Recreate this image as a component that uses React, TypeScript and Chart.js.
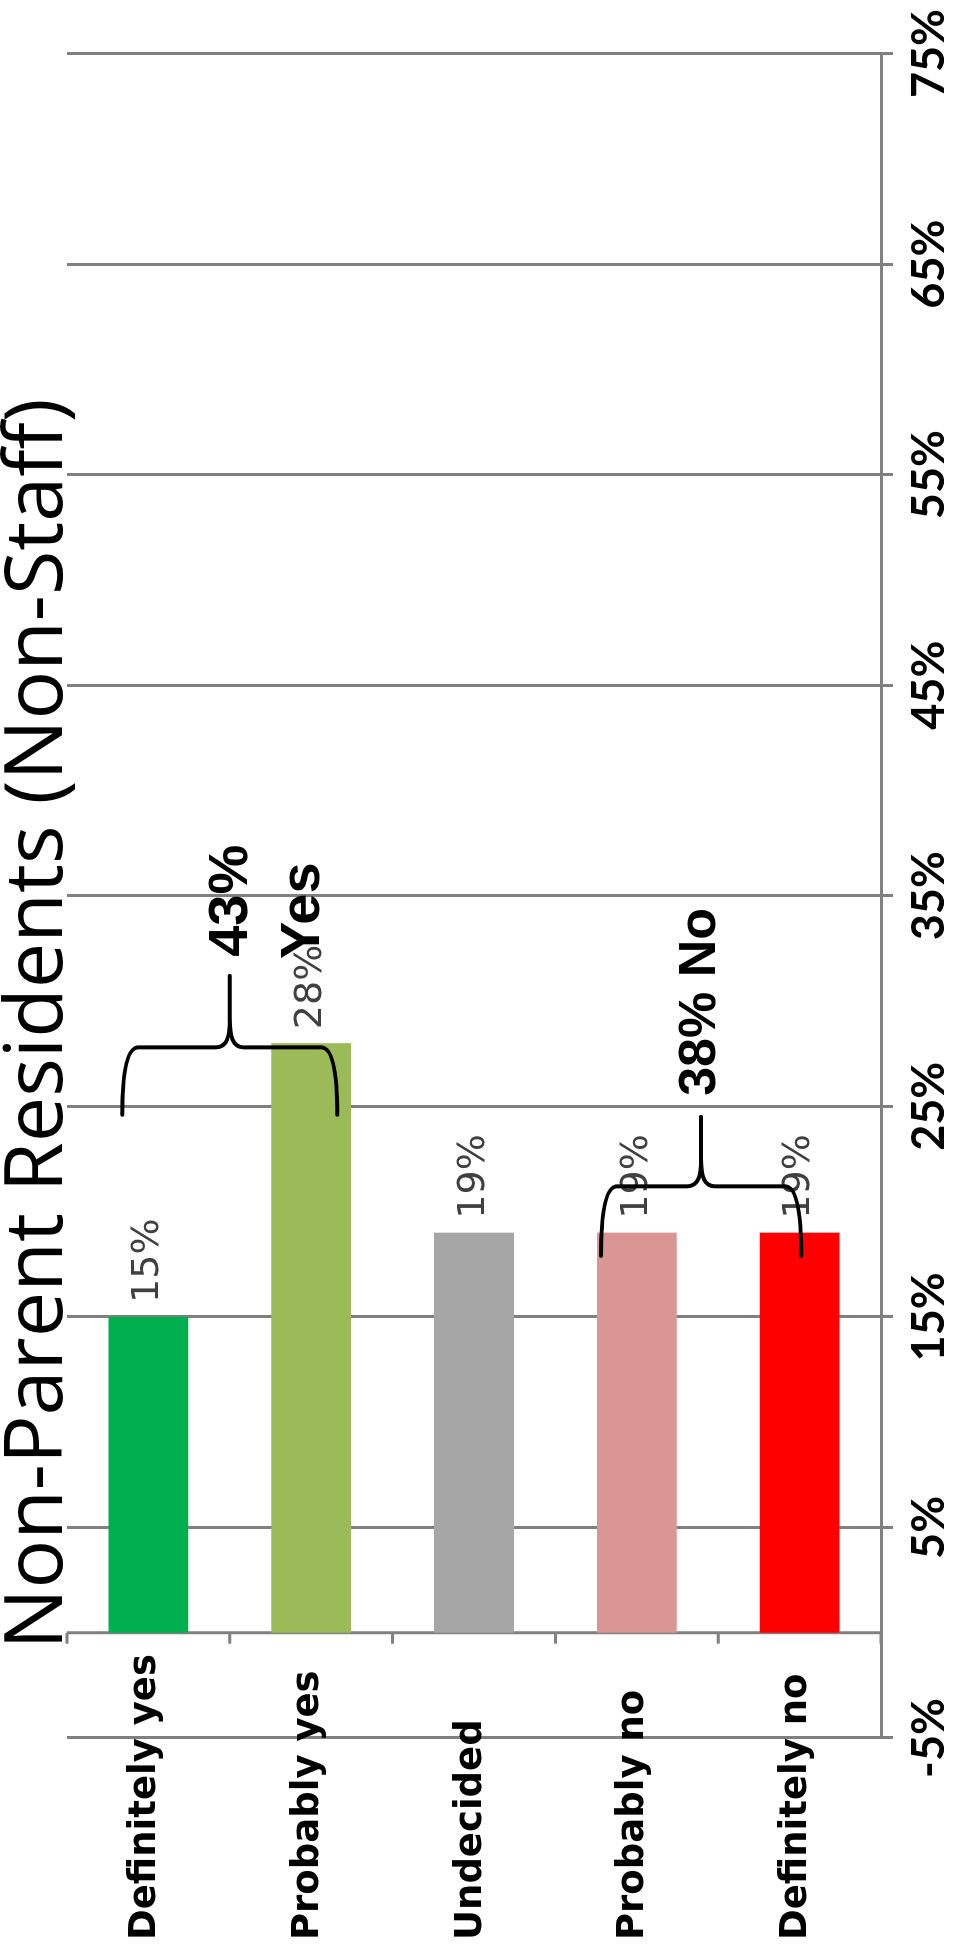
import React, { useEffect, useRef } from 'react';
import { Chart, registerables } from 'chart.js';

Chart.register(...registerables);

// ---- data ----
const TITLE = 'Non-Parent Residents (Non-Staff)';
const CATEGORIES = ['Definitely yes', 'Probably yes', 'Undecided', 'Probably no', 'Definitely no'];
const VALUES = [15, 28, 19, 19, 19];
const BAR_COLORS = ['#00B050', '#9BBB59', '#A6A6A6', '#D99694', '#FF0000'];
const TICK_VALUES = [-5, 5, 15, 25, 35, 45, 55, 65, 75];
const AXIS_MIN = -5;
const AXIS_MAX = 75;

const YES_LINES = ['43%', 'Yes'];
const NO_LINES = ['38% No'];

// ---- annotation layout (data units: value %, category index) ----
const BRACES = [
  { from: -0.16, to: 1.16, arm: 24.6, mid: 27.8, tip: 31.2 },
  { from: 2.78, to: 4.01, arm: 17.9, mid: 21.2, tip: 24.5 },
];
const NOTES = [
  { text: YES_LINES[0], x: 32.1, y: 0.51, size: 56 },
  { text: YES_LINES[1], x: 32.0, y: 0.955, size: 56 },
  { text: NO_LINES[0], x: 25.5, y: 3.39, size: 52 },
];

const GRID_COLOR = '#808080';
const W = 2048;
const H = 955;
const LABEL_LEFT = 108;

const categoryAxisPlugin = {
  id: 'categoryAxis',
  beforeDatasetsDraw(chart: any) {
    const { ctx, chartArea, scales } = chart;
    const xs = scales.x;
    const ys = scales.y;
    const x0 = xs.getPixelForValue(0);
    ctx.save();
    ctx.strokeStyle = GRID_COLOR;
    ctx.lineWidth = 3;
    ctx.beginPath();
    ctx.moveTo(x0, chartArea.top);
    ctx.lineTo(x0, chartArea.bottom);
    for (let i = 0; i <= CATEGORIES.length; i++) {
      const y = ys.getPixelForValue(i - 0.5);
      ctx.moveTo(x0 - 11, y);
      ctx.lineTo(x0, y);
    }
    ctx.stroke();
    ctx.restore();
  },
  afterDraw(chart: any) {
    const { ctx, scales } = chart;
    const ys = scales.y;
    ctx.save();
    ctx.font = 'bold 37px "DejaVu Sans"';
    ctx.fillStyle = '#000';
    ctx.textAlign = 'left';
    ctx.textBaseline = 'middle';
    CATEGORIES.forEach((c, i) => {
      ctx.fillText(c, LABEL_LEFT, ys.getPixelForValue(i) - 3);
    });
    ctx.restore();
  },
};

const dataLabelPlugin = {
  id: 'dataLabels',
  afterDatasetsDraw(chart: any) {
    const { ctx } = chart;
    const meta = chart.getDatasetMeta(0);
    ctx.save();
    ctx.font = '38px "DejaVu Sans"';
    ctx.fillStyle = '#404040';
    ctx.textAlign = 'left';
    ctx.textBaseline = 'middle';
    meta.data.forEach((bar: any, i: number) => {
      ctx.fillText(VALUES[i] + '%', bar.x + 14, bar.y);
    });
    ctx.restore();
  },
};

const annotationPlugin = {
  id: 'annotations',
  afterDraw(chart: any) {
    const { ctx, scales } = chart;
    const xs = scales.x;
    const ys = scales.y;
    ctx.save();
    ctx.strokeStyle = '#000';
    ctx.lineWidth = 4;
    ctx.lineCap = 'round';
    ctx.lineJoin = 'round';
    BRACES.forEach((b) => {
      const y1 = ys.getPixelForValue(b.from);
      const y2 = ys.getPixelForValue(b.to);
      const ym = (y1 + y2) / 2;
      const xa = xs.getPixelForValue(b.arm);
      const xm = xs.getPixelForValue(b.mid);
      const xt = xs.getPixelForValue(b.tip);
      const r = 16;
      const r2 = 14;
      const d = xt - xm;
      ctx.beginPath();
      ctx.moveTo(xa, y1);
      ctx.quadraticCurveTo(xm, y1, xm, y1 + r);
      ctx.lineTo(xm, ym - r2);
      ctx.bezierCurveTo(xm, ym - r2 * 0.2, xm + d * 0.15, ym, xm + d * 0.4, ym);
      ctx.lineTo(xt, ym);
      ctx.moveTo(xm + d * 0.4, ym);
      ctx.bezierCurveTo(xm + d * 0.15, ym, xm, ym + r2 * 0.2, xm, ym + r2);
      ctx.lineTo(xm, y2 - r);
      ctx.quadraticCurveTo(xm, y2, xa, y2);
      ctx.stroke();
    });
    ctx.fillStyle = '#000';
    ctx.textAlign = 'left';
    ctx.textBaseline = 'middle';
    NOTES.forEach((n) => {
      ctx.font = 'bold ' + n.size + 'px "Liberation Sans"';
      ctx.fillText(n.text, xs.getPixelForValue(n.x), ys.getPixelForValue(n.y));
    });
    ctx.restore();
  },
};

export default function App() {
  const ref = useRef<HTMLCanvasElement>(null);

  useEffect(() => {
    const canvas = ref.current;
    if (!canvas) return;
    const chart = new Chart(canvas, {
      type: 'bar',
      data: {
        labels: CATEGORIES,
        datasets: [
          {
            data: VALUES,
            backgroundColor: BAR_COLORS,
            borderWidth: 0,
            barPercentage: 0.49,
            categoryPercentage: 1,
          },
        ],
      },
      options: {
        indexAxis: 'y',
        responsive: false,
        animation: false,
        devicePixelRatio: 1,
        layout: { padding: { left: 0, right: 0, top: 0, bottom: 0 } },
        plugins: {
          legend: { display: false },
          tooltip: { enabled: false },
          title: {
            display: true,
            text: TITLE,
            color: '#000',
            align: 'center',
            font: { family: '"Open Sans"', size: 81, weight: 'normal', lineHeight: 1 },
            padding: { top: -2, bottom: -12 },
          },
        },
        scales: {
          x: {
            type: 'linear',
            position: 'bottom',
            min: AXIS_MIN,
            max: AXIS_MAX,
            grid: { color: GRID_COLOR, lineWidth: 3, tickLength: 12, drawTicks: true },
            border: { display: true, color: GRID_COLOR, width: 3 },
            ticks: {
              autoSkip: false,
              maxRotation: 0,
              padding: 9,
              color: '#000',
              font: { family: 'Lato', weight: 'bold', size: 45 },
              callback: (v: any) => v + '%',
            },
            afterBuildTicks: (scale: any) => {
              scale.ticks = TICK_VALUES.map((v) => ({ value: v }));
            },
            afterFit: (scale: any) => {
              scale.height = 74;
            },
          },
          y: {
            type: 'category',
            position: 'left',
            grid: { display: false },
            border: { display: false },
            ticks: { display: false },
            afterFit: (scale: any) => {
              scale.width = 310;
            },
          },
        },
      } as any,
      plugins: [categoryAxisPlugin, dataLabelPlugin, annotationPlugin],
    });
    return () => chart.destroy();
  }, []);

  return (
    <div
      style={{
        position: 'absolute',
        left: 0,
        top: 0,
        width: 955,
        height: 1944,
        overflow: 'hidden',
        background: '#fff',
      }}
    >
      <div
        style={{
          position: 'absolute',
          left: 0,
          top: 0,
          width: W,
          height: H,
          transformOrigin: '0 0',
          transform: `translateY(${W}px) rotate(-90deg)`,
        }}
      >
        <canvas ref={ref} width={W} height={H} style={{ display: 'block', width: W, height: H }} />
      </div>
    </div>
  );
}
